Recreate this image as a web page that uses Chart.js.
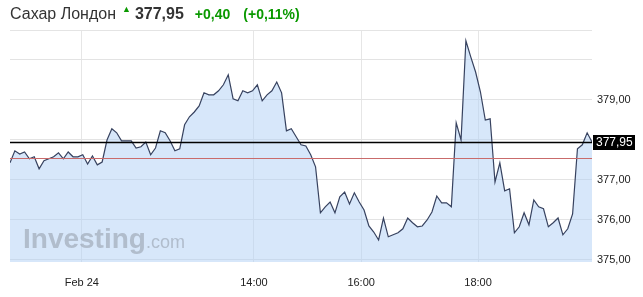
<!DOCTYPE html>
<html>
<head>
<meta charset="utf-8">
<script src="https://cdn.jsdelivr.net/npm/chart.js@4"></script>
<style>
  html, body { margin: 0; padding: 0; background: #fff; }
  #wrap { position: relative; width: 643px; height: 297px; font-family: Arial, "Liberation Sans", sans-serif; }
  #head { position: absolute; left: 10px; top: 5px; white-space: nowrap; color: #333; }
  #head .name { font-size: 16px; }
  #head .arrow { color: #0a9900; font-size: 9px; position: relative; top: -7px; margin-left: 6px; }
  #head .last { font-size: 16px; font-weight: bold; margin-left: 4px; }
  #head .chg { font-size: 14px; font-weight: bold; color: #0a9900; margin-left: 11px; }
  canvas { position: absolute; left: 0; top: 0; }
</style>
</head>
<body>
<div id="wrap">
  <canvas id="sugarChart" width="643" height="297"></canvas>
  <div id="head">
    <span class="name">Сахар Лондон</span><span class="arrow">&#9650;</span><span class="last">377,95</span><span class="chg">+0,40</span><span class="chg" style="margin-left:13px">(+0,11%)</span>
  </div>
</div>
<script>
// Price points, left to right (evenly spaced)
const prices = [
    377.43, 377.73, 377.65, 377.70, 377.53, 377.58, 377.28, 377.48, 377.53, 377.58,
    377.68, 377.53, 377.70, 377.58, 377.58, 377.63, 377.40, 377.60, 377.38, 377.45,
    378.00, 378.28, 378.18, 377.98, 377.98, 377.98, 377.80, 377.83, 377.95, 377.63,
    377.80, 378.23, 378.18, 377.98, 377.73, 377.78, 378.38, 378.58, 378.70, 378.85,
    379.18, 379.13, 379.13, 379.23, 379.38, 379.63, 379.03, 378.98, 379.23, 379.18,
    379.23, 379.38, 378.98, 379.13, 379.23, 379.45, 379.18, 378.23, 378.28, 378.08,
    377.88, 377.85, 377.63, 377.33, 376.18, 376.33, 376.45, 376.18, 376.58, 376.70,
    376.40, 376.68, 376.45, 376.25, 375.85, 375.70, 375.50, 376.05, 375.58, 375.63,
    375.68, 375.78, 376.05, 375.93, 375.83, 375.85, 376.00, 376.20, 376.60, 376.43,
    376.43, 376.33, 378.43, 378.00, 380.48, 380.08, 379.70, 379.20, 378.50, 378.53,
    376.95, 377.43, 376.73, 376.78, 375.68, 375.83, 376.18, 375.88, 376.50, 376.33,
    376.28, 375.83, 375.93, 376.05, 375.63, 375.78, 376.15, 377.78, 377.88, 378.18,
    377.95
];

// Time axis labels and where they fall (in point index units)
const xTickLabels = ['Feb 24', '14:00', '16:00', '18:00'];
const xTickPos = [14.8, 50.3, 72.4, 96.5];

// Price axis
const yGridTicks = [375, 376, 377, 378, 379, 380];
const yLabelTicks = [375, 376, 377, 379];
const yMin = 374.95;
const yMax = 380.75;

const lastPrice = 377.95;
const prevClose = 377.55;

const fmt = v => v.toFixed(2).replace('.', ',');

// Reference lines, price tag, watermark
const overlay = {
    id: 'overlay',
    afterDatasetsDraw(chart) {
        const ctx = chart.ctx;
        const area = chart.chartArea;
        const y = chart.scales.y;

        ctx.save();
        // watermark
        ctx.fillStyle = 'rgba(140,148,160,0.5)';
        ctx.textBaseline = 'alphabetic';
        ctx.font = 'bold 28px Arial, "Liberation Sans", sans-serif';
        ctx.fillText('Investing', area.left + 13, 248);
        const w = ctx.measureText('Investing').width;
        ctx.font = '18px Arial, "Liberation Sans", sans-serif';
        ctx.fillText('.com', area.left + 13 + w, 248);

        // top border
        ctx.strokeStyle = '#e4e4e4';
        ctx.lineWidth = 1;
        ctx.beginPath();
        ctx.moveTo(area.left, area.top + 0.5);
        ctx.lineTo(area.right, area.top + 0.5);
        ctx.stroke();

        // previous close
        const yPrev = Math.round(y.getPixelForValue(prevClose)) + 0.5;
        ctx.strokeStyle = '#c96b6b';
        ctx.beginPath();
        ctx.moveTo(area.left, yPrev);
        ctx.lineTo(area.right, yPrev);
        ctx.stroke();

        // last price
        const yLast = Math.round(y.getPixelForValue(lastPrice)) + 0.5;
        ctx.strokeStyle = '#000';
        ctx.lineWidth = 1.5;
        ctx.beginPath();
        ctx.moveTo(area.left, yLast);
        ctx.lineTo(area.right, yLast);
        ctx.stroke();

        ctx.fillStyle = '#000';
        ctx.fillRect(area.right + 1, yLast - 7.5, 42, 15);
        ctx.fillStyle = '#fff';
        ctx.font = '12px Arial, "Liberation Sans", sans-serif';
        ctx.textBaseline = 'middle';
        ctx.fillText(fmt(lastPrice), area.right + 4, yLast + 0.5);
        ctx.restore();
    }
};

document.addEventListener('DOMContentLoaded', () => {
    const ctx = document.getElementById('sugarChart').getContext('2d');

    new Chart(ctx, {
        type: 'line',
        data: {
            datasets: [{
                data: prices.map((v, i) => ({ x: i, y: v })),
                borderColor: '#37425f',
                borderWidth: 1.2,
                backgroundColor: 'rgba(175,208,246,0.5)',
                fill: 'start',
                pointRadius: 0,
                tension: 0
            }]
        },
        options: {
            responsive: false,
            animation: false,
            events: [],
            layout: { padding: { left: 10, top: 30, right: 0, bottom: 0 } },
            plugins: {
                legend: { display: false },
                tooltip: { enabled: false }
            },
            scales: {
                x: {
                    type: 'linear',
                    min: 0,
                    max: prices.length - 1,
                    afterBuildTicks: scale => {
                        scale.ticks = xTickPos.map(v => ({ value: v }));
                    },
                    afterFit: scale => { scale.height = 35; },
                    ticks: {
                        autoSkip: false,
                        maxRotation: 0,
                        padding: 14,
                        color: '#222',
                        font: { family: 'Arial, "Liberation Sans", sans-serif', size: 11 },
                        callback: (v, i) => xTickLabels[i]
                    },
                    grid: { color: '#e6e6e6', drawTicks: false },
                    border: { display: false }
                },
                y: {
                    position: 'right',
                    min: yMin,
                    max: yMax,
                    afterBuildTicks: scale => {
                        scale.ticks = yGridTicks.map(v => ({ value: v }));
                    },
                    afterFit: scale => { scale.width = 51; },
                    ticks: {
                        padding: 5,
                        color: '#222',
                        font: { family: 'Arial, "Liberation Sans", sans-serif', size: 11 },
                        callback: v => yLabelTicks.includes(v) ? fmt(v) : ''
                    },
                    grid: { color: '#e3e3e3', drawTicks: false },
                    border: { display: false }
                }
            }
        },
        plugins: [overlay]
    });
});
</script>
</body>
</html>
